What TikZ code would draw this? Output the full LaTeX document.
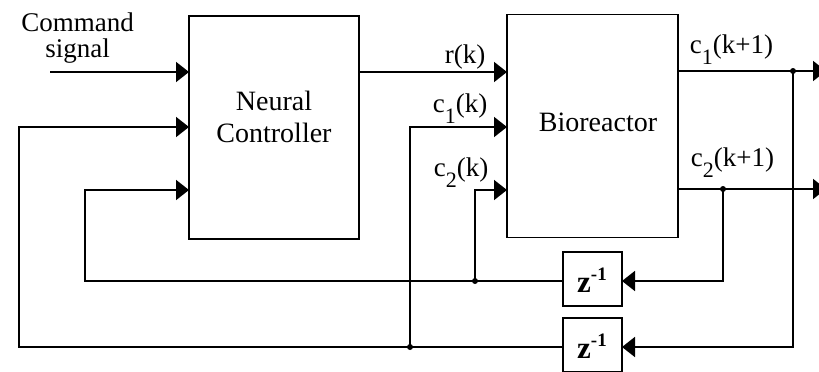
\documentclass[tikz,border=0pt]{standalone}
\usepackage{fontspec}
\setmainfont{Liberation Serif}
\usetikzlibrary{arrows.meta}
\newcommand\lsub[1]{\raisebox{-11pt}{\fontsize{22}{22}\selectfont #1}}
\newcommand\lsup[1]{\raisebox{12pt}{\fontsize{19}{19}\selectfont #1}}
\begin{document}
\begin{tikzpicture}[x=1pt,y=-1pt, line width=1.8pt,
  blk/.style={draw, rectangle, inner sep=0pt, outer sep=0pt},
  txt/.style={font=\fontsize{28}{24}\selectfont, inner sep=0pt},
  lbl/.style={font=\fontsize{27}{27}\selectfont, inner sep=0pt, anchor=base west},
  zt/.style={font=\fontsize{31}{31}\selectfont\bfseries, inner sep=0pt},
  sig/.style={-{Triangle[length=13pt,width=20pt]}},
  dotp/.style={circle, fill, inner sep=0pt, minimum size=6pt}]
\useasboundingbox (0,0) rectangle (819,372);
\clip (0,0) rectangle (819,372);
% blocks
\node[blk, minimum width=170pt, minimum height=223pt] (nc) at (274,127.5) {};
\node[blk, minimum width=171pt, minimum height=223pt] (bio) at (592.5,126) {};
\node[blk, minimum width=59pt, minimum height=54pt] (z1) at (592.5,279) {};
\node[blk, minimum width=59pt, minimum height=54pt] (z2) at (592.5,345) {};
% texts
\node[txt, align=center, font=\fontsize{28}{32}\selectfont] (nct) at (274,117) {Neural\\Controller};
\node[txt] (biot) at (598,122) {Bioreactor};
\node[zt] (z1t) at (592,280.5) {z\lsup{-1}};
\node[zt] (z2t) at (592,346.5) {z\lsup{-1}};
\node[txt, align=center, font=\fontsize{27}{26}\selectfont] (cmd) at (77.5,38) {Command\\signal};
\node[lbl] (rk) at (444,63) {r(k)};
\node[lbl] (c1k) at (432,112) {c\lsub{1}(k)};
\node[lbl] (c2k) at (433,176) {c\lsub{2}(k)};
\node[lbl] (c1o) at (689,53) {c\lsub{1}(k+1)};
\node[lbl] (c2o) at (690,166) {c\lsub{2}(k+1)};
% coordinates
\coordinate (cmdin) at (50,72);
\coordinate (inA) at (0,72);
\coordinate (inB) at (0,127);
\coordinate (inC) at (0,190);
\coordinate (d1) at (793,71);
\coordinate (d2) at (723,189);
\coordinate (d3) at (475,281);
\coordinate (d4) at (410,347);
\coordinate (o1) at (826,71);
\coordinate (o2) at (826,189);
\coordinate (l1) at (19,347);
\coordinate (l2) at (85,281);
% connectors
\draw[sig] (cmdin) -- (nc.west |- inA);
\draw[sig] (nc.east |- inA) -- (bio.west |- inA);
\draw[sig] (bio.east |- d1) -- (o1);
\draw[sig] (bio.east |- d2) -- (o2);
\draw[sig] (d1) -- (d1 |- d4) -- (z2.east |- d4);
\draw[sig] (d2) -- (d2 |- d3) -- (z1.east |- d3);
\draw[sig] (z2.west |- d4) -- (l1) |- (nc.west |- inB);
\draw[sig] (d4) |- (bio.west |- inB);
\draw[sig] (z1.west |- d3) -- (l2) |- (nc.west |- inC);
\draw[sig] (d3) |- (bio.west |- inC);
% junction dots
\node[dotp] (j1) at (d1) {};
\node[dotp] (j2) at (d2) {};
\node[dotp] (j3) at (d3) {};
\node[dotp] (j4) at (d4) {};
\end{tikzpicture}
\end{document}
